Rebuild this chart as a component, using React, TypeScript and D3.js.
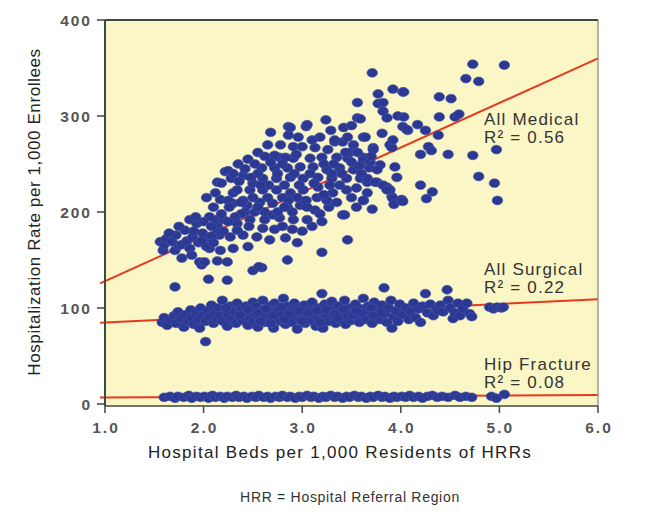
import React from "react";
import * as d3 from "d3";

const xTicks = [1, 2, 3, 4, 5, 6];
const yTicks = [0, 100, 200, 300, 400];

const medical: [number, number][] = [
  [1.56,169],[1.59,160],[1.6,166],[1.62,172],[1.68,169],[1.71,160],[1.72,176],[1.75,165],[1.78,166],[1.78,152],
  [1.81,181],[1.83,170],[1.86,192],[1.86,162],[1.88,155],[1.89,174],[1.93,188],[1.9,180],[1.95,168],[1.98,145],
  [1.71,122],[2.05,130],[2.24,129],[1.96,148],[2.01,148],[2.14,149],[2.24,148],[2.5,139],[2.59,142],
  [2.03,173],[2.06,162],[2.12,192],[2.14,185],[2.16,176],[2.03,215],[2.17,213],[2.3,209],[2.44,207],[2.57,210],
  [2.7,209],[2.85,205],[2.98,207],[3.13,202],[3.27,205],[2.06,195],[2.2,192],[2.34,188],[2.47,192],[2.62,192],
  [2.77,194],[2.91,192],[3.05,192],[1.99,178],[2.14,179],[2.27,174],[2.4,176],[2.54,174],[2.67,171],[2.83,173],
  [2.03,164],[2.17,160],[2.3,162],[2.45,164],[2.56,143],[2.3,220],[2.25,212],[2.34,181],[2.2,180],
  [2.34,223],[2.47,223],[2.6,223],[2.74,223],[2.88,220],[3.01,223],[3.16,226],[3.31,220],[3.45,223],[3.62,212],
  [2.22,242],[2.14,231],[2.25,243],[2.6,235],[2.74,235],[2.88,236],[3.01,235],[3.16,236],[3.3,235],[3.45,235],
  [3.59,235],[3.66,231],[3.76,231],[3.86,226],[3.99,212],[3.91,216],
  [2.59,246],[2.72,246],[2.85,246],[2.98,247],[3.11,247],[3.25,244],[3.38,246],[3.52,244],[3.68,246],
  [2.77,257],[2.91,256],[3.08,256],[3.2,257],[3.35,257],[3.46,256],[3.62,257],
  [2.91,268],[3.13,267],[3.26,265],[3.33,273],[3.41,273],[3.52,270],[3.72,267],
  [2.86,289],[3.04,289],[3.29,285],[3.42,288],[3.46,278],[2.86,280],[2.96,278],[3.62,278],
  [3.56,314],[3.56,298],[3.41,197],[3.46,171],[3.2,158],[2.85,150],[2.95,168],
  [3.71,345],[3.92,328],[4.02,325],[3.77,323],[3.77,313],[3.82,314],[3.82,305],[3.86,298],[3.97,300],[4.02,289],
  [4.07,285],[3.81,282],[3.64,278],[3.59,297],[3.89,270],[3.91,267],[3.72,265],[3.62,254],[3.79,249],[3.94,247],
  [3.76,244],[3.66,235],[3.74,231],[3.82,228],[3.89,223],[3.92,214],[4.01,213],[3.93,208],[3.62,212],[3.71,203],
  [4.73,354],[5.05,353],[4.66,339],[4.79,336],[4.03,325],[4.39,320],[4.51,318],[4.39,299],[4.55,299],[4.59,302],
  [4.17,291],[4.25,285],[4.38,280],[4.28,268],[4.31,264],[4.2,260],[4.48,260],[4.73,259],[4.97,265],[4.79,237],
  [4.95,230],[4.98,212],[4.2,228],[4.32,221],[4.26,214],[4.02,211],[4.03,299],[4.06,286],
  [3.05,291],[2.88,288],[3.33,275],[2.72,259],[2.83,257],[3.69,252],[3.96,236],[3.86,223],[3.43,197],[3.92,275],
  [2.45,255],[2.55,262],[2.65,270],[2.68,283],[2.78,270],[2.4,238],[2.5,230],[2.55,240],[2.35,250],[2.42,200],
  [2.52,200],[2.62,200],[2.72,182],[2.8,185],[2.9,182],[3.0,180],[3.1,185],[3.2,190],[3.25,212],[3.35,210],
  [3.5,215],[3.55,225],[3.15,215],[2.95,215],[2.8,215],[2.65,215],[2.5,215],[2.38,198],[2.1,205],[2.12,220],
  [2.18,230],[2.28,235],[2.0,190],[1.92,195],[3.18,278],[3.48,262],[3.58,248],[3.24,296],[3.5,290],[3.1,275],
  [2.08,185],[2.18,198],[2.26,205],[2.32,195],[2.4,212],[2.46,185],[2.55,205],[2.6,183],[2.66,228],[2.7,197],
  [2.75,240],[2.82,228],[2.86,212],[2.92,240],[2.97,228],[3.04,212],[3.08,240],[3.12,230],[3.22,250],[3.28,228],
  [3.32,250],[3.4,240],[3.44,262],[3.5,252],[3.56,262],[3.38,228],[3.22,218],[2.94,260],[3.0,268],[2.8,250],
  [2.68,252],[2.62,258],[2.52,250],[2.42,245],[2.36,232],[2.3,240],[2.48,236],[2.58,228],[2.9,200],[3.05,205],
  [3.18,198],[2.75,200],[2.82,205],[1.98,170],[2.08,175],[1.75,185],[1.65,178],[2.1,168],[2.25,190],[2.38,210],
  [3.3,240],[3.6,240],[3.7,258],[3.55,205],[3.66,220]
];

const surgical: [number, number][] = [
  [1.58,85],[1.6,90],[1.63,82],[1.66,88],[1.7,92],[1.72,84],[1.74,96],[1.77,89],[1.8,80],[1.82,93],
  [1.84,86],[1.87,98],[1.88,90],[1.9,83],[1.93,95],[1.95,88],[1.97,100],[1.99,92],[2.02,65],[1.96,79],
  [2.02,86],[2.04,97],[2.06,91],[2.08,103],[2.1,84],[2.12,95],[2.14,89],[2.15,100],[2.17,92],[2.19,108],
  [2.2,86],[2.22,97],[2.24,81],[2.25,93],[2.27,102],[2.29,88],[2.31,96],[2.33,84],[2.34,105],[2.36,91],
  [2.38,99],[2.4,87],[2.42,94],[2.43,102],[2.45,82],[2.47,90],[2.48,98],[2.5,106],[2.5,86],
  [2.52,94],[2.54,101],[2.55,80],[2.57,89],[2.59,97],[2.6,108],[2.62,85],[2.64,93],[2.66,102],[2.67,88],
  [2.69,96],[2.71,79],[2.72,105],[2.74,91],[2.76,99],[2.78,86],[2.8,94],[2.81,110],[2.83,83],[2.85,102],
  [2.86,90],[2.88,97],[2.9,85],[2.92,105],[2.93,92],[2.95,78],[2.96,100],[2.98,88],[3.0,95],
  [3.02,103],[3.03,84],[3.05,91],[3.07,98],[3.09,87],[3.1,106],[3.12,93],[3.14,81],[3.16,100],[3.17,89],
  [3.19,96],[3.2,115],[3.21,79],[3.23,104],[3.25,92],[3.27,86],[3.28,99],[3.3,107],[3.32,90],[3.34,84],
  [3.35,97],[3.37,102],[3.39,88],[3.41,95],[3.43,108],[3.44,83],[3.46,92],[3.48,100],[3.5,87],
  [3.52,96],[3.54,104],[3.56,90],[3.58,85],[3.6,99],[3.62,110],[3.63,93],[3.65,88],[3.67,102],[3.69,96],
  [3.71,84],[3.73,106],[3.75,92],[3.77,99],[3.79,88],[3.81,103],[3.83,121],[3.84,94],[3.86,85],[3.88,100],
  [3.9,108],[3.91,79],[3.93,91],[3.95,97],[3.97,86],[3.99,104],
  [4.02,93],[4.05,100],[4.08,88],[4.1,96],[4.13,105],[4.15,90],[4.18,99],[4.2,85],[4.22,102],[4.25,115],
  [4.27,95],[4.3,104],[4.33,92],[4.36,99],[4.38,97],[4.4,103],[4.43,96],[4.47,119],[4.48,108],[4.5,100],
  [4.53,89],[4.55,95],[4.58,105],[4.6,92],[4.63,99],[4.67,105],[4.7,94],[4.72,91],[4.9,101],[4.94,99],
  [4.98,101],[5.02,100],[5.04,101],
  [2.23,100],[2.37,93],[2.55,95],[2.63,99],[2.7,92],[2.79,101],[2.87,94],[2.97,97],[3.06,95],[3.15,97],
  [3.24,98],[3.33,94],[3.42,99],[3.51,93],[3.6,95],[3.7,100],[3.8,95],[2.45,98],[2.58,86],[2.68,84],
  [2.82,88],[3.0,86],[3.18,85],[3.36,90],[3.55,97],[3.72,92]
];

const hip: [number, number][] = [
  [1.6,7],[1.66,8],[1.71,6],[1.74,8],[1.8,7],[1.85,9],[1.88,6],[1.93,8],[1.97,7],[2.01,8],
  [2.05,6],[2.09,9],[2.12,7],[2.17,8],[2.21,6],[2.24,8],[2.29,7],[2.33,9],[2.36,7],[2.41,8],
  [2.44,6],[2.49,8],[2.53,7],[2.56,9],[2.61,7],[2.65,8],[2.68,6],[2.73,8],[2.77,7],[2.8,9],
  [2.85,7],[2.88,8],[2.93,6],[2.97,8],[3.0,7],[3.05,9],[3.09,7],[3.12,8],[3.17,6],[3.21,8],
  [3.24,7],[3.29,9],[3.33,7],[3.36,8],[3.41,6],[3.45,8],[3.48,7],[3.53,9],[3.57,7],[3.6,8],
  [3.65,6],[3.69,8],[3.72,7],[3.77,9],[3.81,7],[3.84,8],[3.89,6],[3.93,8],[3.96,7],[4.01,8],
  [4.05,7],[4.09,9],[4.13,7],[4.18,8],[4.22,6],[4.27,8],[4.32,9],[4.37,7],[4.42,8],[4.48,7],
  [4.55,9],[4.6,7],[4.66,8],[4.72,7],[4.92,8],[4.97,6],[5.05,10]
];

const lines = [
  { name: "All Medical", r2: "0.56", y1: 128, y6: 360, lx: 484, ly: 125 },
  { name: "All Surgical", r2: "0.22", y1: 85, y6: 109, lx: 484, ly: 275 },
  { name: "Hip Fracture", r2: "0.08", y1: 6.8, y6: 9.4, lx: 484, ly: 370 }
];

const W = 648, H = 523;
const x = d3.scaleLinear().domain([1, 6]).range([105, 598]);
const y = d3.scaleLinear().domain([0, 400]).range([404, 20]);

export default function App() {
  const font = "'Liberation Sans', Arial, Helvetica, sans-serif";
  const all = [...hip, ...surgical, ...medical];
  return (
    <svg width={W} height={H} style={{ position: "absolute", left: 0, top: 0, background: "#fff" }} fontFamily={font}>
      <rect x={x(1)} y={y(400)} width={x(6) - x(1)} height={y(0) - y(400) + 2} fill="#fbf6c6" />
      {lines.map((l) => (
        <line key={l.name} x1={x(0.95)} x2={x(6)} y1={y(l.y1 - (l.y6 - l.y1) * 0.01)} y2={y(l.y6)} stroke="#e63a1e" strokeWidth={2} />
      ))}
      {all.map((p, i) => (
        <ellipse key={i} cx={x(p[0])} cy={y(p[1])} rx={5.3} ry={4.4} fill="#2b3894" stroke="#4556a8" strokeWidth={0.6} />
      ))}
      <line x1={x(6)} x2={x(6)} y1={y(400)} y2={y(0) + 2} stroke="#9a9a8a" strokeWidth={1.5} />
      <line x1={x(1)} x2={x(6)} y1={y(400)} y2={y(400)} stroke="#3d4a40" strokeWidth={2} />
      <line x1={x(1)} x2={x(1)} y1={y(400)} y2={y(0) + 2} stroke="#3d4a40" strokeWidth={2} />
      <line x1={x(1)} x2={x(6)} y1={y(0) + 2} y2={y(0) + 2} stroke="#3d4a40" strokeWidth={1.5} />
      {yTicks.map((t) => (
        <g key={t}>
          <line x1={x(1) - 8} x2={x(1)} y1={y(t)} y2={y(t)} stroke="#3d4a40" strokeWidth={1.5} />
          <text x={92} y={y(t) + 5.5} textAnchor="end" fontSize={15.5} fontWeight="bold" letterSpacing={2} fill="#555">{t}</text>
        </g>
      ))}
      {xTicks.map((t) => (
        <g key={t}>
          <line x1={x(t)} x2={x(t)} y1={y(0) + 2} y2={y(0) + 9} stroke="#3d4a40" strokeWidth={1.5} />
          <text x={x(t) + 1} y={433} textAnchor="middle" fontSize={15.5} fontWeight="bold" letterSpacing={2} fill="#555">{t.toFixed(1)}</text>
        </g>
      ))}
      {lines.map((l) => (
        <g key={l.name + "t"} fontSize={17} letterSpacing={1.2} fill="#333">
          <text x={l.lx} y={l.ly}>{l.name}</text>
          <text x={l.lx} y={l.ly + 18}>R² = {l.r2}</text>
        </g>
      ))}
      <text x={340} y={458} textAnchor="middle" fontSize={17} letterSpacing={1.3} fill="#222">Hospital Beds per 1,000 Residents of HRRs</text>
      <text transform={`translate(40,212) rotate(-90)`} textAnchor="middle" fontSize={17} letterSpacing={0.6} fill="#222">Hospitalization Rate per 1,000 Enrollees</text>
      <text x={350} y={502} textAnchor="middle" fontSize={14} letterSpacing={0.7} fill="#333">HRR = Hospital Referral Region</text>
    </svg>
  );
}
